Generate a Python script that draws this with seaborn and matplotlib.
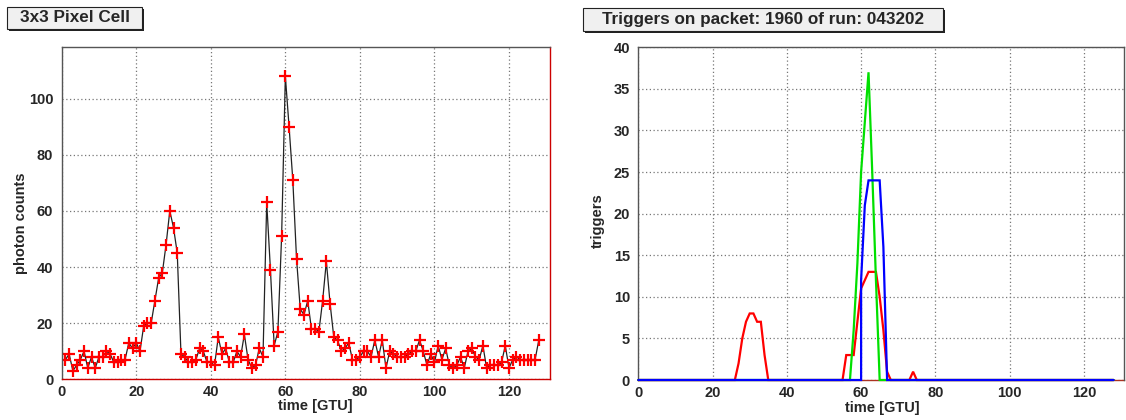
import matplotlib
matplotlib.use("Agg")
import matplotlib.pyplot as plt
import numpy as np
import pandas as pd
import seaborn as sns
from matplotlib.patches import Rectangle
from matplotlib.ticker import MultipleLocator

# --- data: 3x3 pixel cell (time 1..128 GTU) ---
cell_time = np.arange(1, 129)
cell_counts = [
    7, 9, 3, 5, 7, 10, 4, 8, 4, 8, 8, 10, 9, 6, 6, 7, 7, 13, 11, 13,
    10, 19, 20, 20, 28, 36, 38, 48, 60, 54, 45, 9, 8, 6, 6, 7, 11, 10, 6, 6,
    5, 15, 9, 11, 6, 6, 10, 8, 16, 7, 4, 5, 11, 8, 63, 39, 12, 17, 51, 108,
    90, 71, 43, 25, 23, 28, 18, 18, 17, 28, 42, 27, 15, 14, 10, 11, 13, 7, 7, 8,
    10, 10, 8, 14, 8, 14, 4, 10, 9, 8, 8, 8, 9, 10, 10, 14, 10, 5, 9, 6,
    12, 7, 11, 5, 4, 5, 8, 4, 10, 11, 8, 7, 12, 4, 5, 5, 5, 6, 12, 4,
    7, 8, 7, 7, 7, 7, 7, 14,
]

# --- data: triggers per GTU (three trigger levels) ---
red_time = [0, 26, 27, 28, 29, 30, 31, 32, 33, 34, 35, 55, 56, 57, 58, 59, 60,
            61, 62, 63, 64, 65, 66, 67, 68, 73, 74, 75, 128]
red_trig = [0, 0, 2, 5, 7, 8, 8, 7, 7, 3, 0, 0, 3, 3, 3, 7, 11,
            12, 13, 13, 13, 10, 6, 1, 0, 0, 1, 0, 0]
green_time = [0, 57, 58, 59, 60, 61, 62, 63, 64, 65, 128]
green_trig = [0, 0, 6, 14, 25, 31, 37, 25, 12, 0, 0]
blue_time = [0, 60, 60, 61, 62, 63, 64, 65, 66, 67, 128]
blue_trig = [0, 0, 12, 21, 24, 24, 24, 24, 16, 0, 0]

left_title = "3x3 Pixel Cell"
right_title = "Triggers on packet: 1960 of run: 043202"

sns.set_theme(style="white")
plt.rcParams["font.family"] = ["Liberation Sans", "DejaVu Sans"]
plt.rcParams["font.weight"] = "bold"

W, H = 1126, 420
fig = plt.figure(figsize=(W / 100, H / 100), dpi=100)


def px_axes(x0, y0, x1, y1):
    # pixel box (top-left origin) -> figure fraction
    return fig.add_axes([x0 / W, 1 - y1 / H, (x1 - x0) / W, (y1 - y0) / H])


ax1 = px_axes(61.7, 47.3, 550, 379.3)
ax2 = px_axes(638.3, 47.3, 1124, 380)

# left panel
df_cell = pd.DataFrame({"time": cell_time, "counts": cell_counts})
sns.lineplot(data=df_cell, x="time", y="counts", ax=ax1, color="#222222", lw=0.9,
             marker="+", markersize=8, markeredgecolor="red", markeredgewidth=1.6,
             estimator=None, sort=False)
ax1.set_xlim(0, 131)
ax1.set_ylim(0, 118.3)
ax1.xaxis.set_major_locator(MultipleLocator(20))
ax1.xaxis.set_minor_locator(MultipleLocator(5))
ax1.yaxis.set_major_locator(MultipleLocator(20))
ax1.yaxis.set_minor_locator(MultipleLocator(5))
ax1.set_ylabel("photon counts", fontsize=10.5, fontweight="bold")
ax1.set_xlabel("time [GTU]", fontsize=10.5, fontweight="bold")
ax1.yaxis.set_label_coords(-0.069, 0.47)
ax1.xaxis.set_label_coords(0.52, -0.058)

# right panel: red, green, blue drawn in this order (blue on top)
for i, (t, v, c) in enumerate([(red_time, red_trig, "#ff0000"),
                               (green_time, green_trig, "#00e000"),
                               (blue_time, blue_trig, "#0000ff")]):
    df_trig = pd.DataFrame({"time": t, "triggers": v})
    sns.lineplot(data=df_trig, x="time", y="triggers", ax=ax2, color=c, lw=1.6,
                 estimator=None, sort=False, zorder=3 + i, clip_on=False,
                 solid_joinstyle="miter")
ax2.set_xlim(0, 130.8)
ax2.set_ylim(0, 40)
ax2.xaxis.set_major_locator(MultipleLocator(20))
ax2.xaxis.set_minor_locator(MultipleLocator(5))
ax2.yaxis.set_major_locator(MultipleLocator(5))
ax2.yaxis.set_minor_locator(MultipleLocator(1))
ax2.set_ylabel("triggers", fontsize=10.5, fontweight="bold")
ax2.set_xlabel("time [GTU]", fontsize=10.5, fontweight="bold")
ax2.yaxis.set_label_coords(-0.068, 0.48)
ax2.xaxis.set_label_coords(0.503, -0.062)

for ax in (ax1, ax2):
    ax.grid(True, which="major", color="#777777", ls=(0, (1, 2)), lw=0.9)
    ax.set_axisbelow(True)
    ax.tick_params(axis="y", which="major", direction="in", length=10.8, width=1,
                   color="#444444", labelsize=10.5, pad=6)
    ax.tick_params(axis="y", which="minor", direction="in", length=5.4, width=1,
                   color="#444444")
    ax.tick_params(axis="x", which="major", direction="in", length=7.2, width=1,
                   color="#444444", labelsize=10.5, pad=4)
    ax.tick_params(axis="x", which="minor", direction="in", length=3.6, width=1,
                   color="#444444")
    for lab in ax.get_xticklabels() + ax.get_yticklabels():
        lab.set_fontweight("bold")
    for s in ax.spines.values():
        s.set_color("#555555")
        s.set_linewidth(1)
ax1.spines["bottom"].set_color("#cc0000")
ax1.spines["right"].set_color("#cc0000")
ax2.spines["bottom"].set_color("#aa3322")
ax2.spines["bottom"].set_zorder(1)


def title_box(x0, y0, x1, y1, text):
    # ROOT-like title pave with a dark shadow on right/bottom
    fig.patches.append(Rectangle(((x0 + 2) / W, 1 - (y1 + 2) / H), (x1 - x0) / W,
                                 (y1 - y0) / H, transform=fig.transFigure,
                                 facecolor="#222222", edgecolor="none"))
    fig.patches.append(Rectangle((x0 / W, 1 - y1 / H), (x1 - x0) / W, (y1 - y0) / H,
                                 transform=fig.transFigure, facecolor="#f0f0f0",
                                 edgecolor="#222222", lw=0.8))
    fig.text((x0 + x1) / 2 / W, 1 - (y0 + y1) / 2 / H, text, ha="center",
             va="center", fontsize=12.3, fontweight="bold")


title_box(7, 7, 142, 29, left_title)
title_box(583, 8, 943, 31, right_title)

fig.savefig("out.png", dpi=100)
